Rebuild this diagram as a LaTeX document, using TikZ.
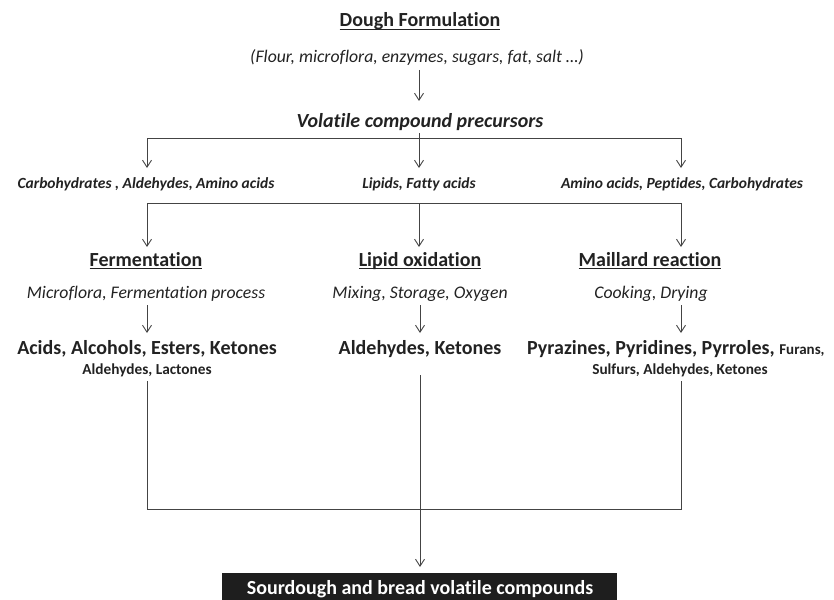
\documentclass[tikz,border=0pt]{standalone}
\usepackage{fontspec}
\setmainfont[Ligatures={NoCommon}]{Carlito}
\usetikzlibrary{arrows.meta}
\definecolor{ink}{HTML}{222222}
\definecolor{wire}{HTML}{444444}
\definecolor{boxfill}{HTML}{1E1E1E}
\newcommand{\myul}[1]{\setbox0\hbox{#1}\rlap{\color{ink}\rule[-3.2pt]{\wd0}{1.4pt}}\box0}
\begin{document}
\begin{tikzpicture}[x=1pt,y=-1pt,
  txt/.style={text=ink, inner sep=0pt, anchor=base},
  title/.style={txt, font=\fontsize{20}{24}\selectfont\bfseries},
  ital/.style={txt, font=\fontsize{17.7}{21}\selectfont\itshape},
  bi/.style={txt, font=\fontsize{20}{24}\selectfont\bfseries\itshape},
  lab/.style={txt, font=\fontsize{15.5}{18}\selectfont\bfseries\itshape},
  res/.style={txt, font=\fontsize{20}{24}\selectfont\bfseries},
  small/.style={txt, font=\fontsize{15.3}{18}\selectfont\bfseries},
  conn/.style={draw=wire, line width=0.9pt},
  arr/.style={conn, -{Straight Barb[length=7pt,width=9pt]}}]
\useasboundingbox (0,0) rectangle (834,599);

% top
\node[title] (dough) at (420,27) {\myul{Dough Formulation}};
\node[ital] (flour) at (417,63) {(Flour, microflora, enzymes, sugars, fat, salt …)};
\node[bi] (prec) at (420,127) {Volatile compound precursors};

\coordinate (fa) at (419,70);
\coordinate (fb) at (419,101);
\draw[arr] (fa) -- (fb);

% first branch
\coordinate (t1) at (419,133);
\coordinate (b1l) at (147,138);
\coordinate (b1c) at (419,138);
\coordinate (b1r) at (681,138);
\coordinate (a1l) at (147,168);
\coordinate (a1c) at (419,168);
\coordinate (a1r) at (681,168);
\draw[conn] (t1) -- (b1c);
\draw[conn] (b1l) -- (b1r);
\draw[arr] (b1l) -- (a1l);
\draw[arr] (b1c) -- (a1c);
\draw[arr] (b1r) -- (a1r);

\node[lab] (l1) at (146,188) {Carbohydrates , Aldehydes, Amino acids};
\node[lab] (l2) at (419,188) {Lipids, Fatty acids};
\node[lab] (l3) at (682,188) {Amino acids, Peptides, Carbohydrates};

% second branch
\coordinate (b2l) at (147,203);
\coordinate (b2c) at (419,203);
\coordinate (b2r) at (681,203);
\coordinate (a2l) at (147,247);
\coordinate (a2c) at (419,247);
\coordinate (a2r) at (681,247);
\draw[conn] (b2l) -- (b2r);
\draw[arr] (b2l) -- (a2l);
\draw[arr] (b2c) -- (a2c);
\draw[arr] (b2r) -- (a2r);

% process titles
\node[title] (ferm) at (146,266) {\myul{Fermentation}};
\node[title] (lipox) at (420,266) {\myul{Lipid oxidation}};
\node[title] (maill) at (650,266) {\myul{Maillard reaction}};

\node[ital] (f1) at (146,298) {Microflora, Fermentation process};
\node[ital] (f2) at (420,298) {Mixing, Storage, Oxygen};
\node[ital] (f3) at (651,298) {Cooking, Drying};

\coordinate (c1l) at (147,305);
\coordinate (c1c) at (420,305);
\coordinate (c1r) at (681,305);
\coordinate (d1l) at (147,333);
\coordinate (d1c) at (420,333);
\coordinate (d1r) at (681,333);
\draw[arr] (c1l) -- (d1l);
\draw[arr] (c1c) -- (d1c);
\draw[arr] (c1r) -- (d1r);

% results
\node[res] (r1) at (147,354) {Acids, Alcohols, Esters, Ketones};
\node[small] (r1b) at (147,374) {Aldehydes, Lactones};
\node[res] (r2) at (420,354) {Aldehydes, Ketones};
\node[res, anchor=base west] (r3) at (527,354) {Pyrazines, Pyridines, Pyrroles, {\fontsize{15}{18}\selectfont Furans,}};
\node[small] (r3b) at (680,374) {Sulfurs, Aldehydes, Ketones};

% collection
\coordinate (e1l) at (147,381);
\coordinate (e1c) at (420,375);
\coordinate (e1r) at (681,381);
\coordinate (g1l) at (147,509);
\coordinate (g1r) at (681,509);
\coordinate (tip) at (420,567);
\draw[conn] (e1l) -- (g1l) -- (g1r) -- (e1r);
\draw[arr] (e1c) -- (tip);

% final box
\node[fill=boxfill, text=white, inner sep=0pt, minimum width=395pt, minimum height=27pt,
      anchor=north west] (final) at (222,573) {};
\node[text=white, inner sep=0pt, anchor=base, font=\fontsize{20}{24}\selectfont\bfseries] (finaltxt) at (420,594) {Sourdough and bread volatile compounds};
\end{tikzpicture}
\end{document}
